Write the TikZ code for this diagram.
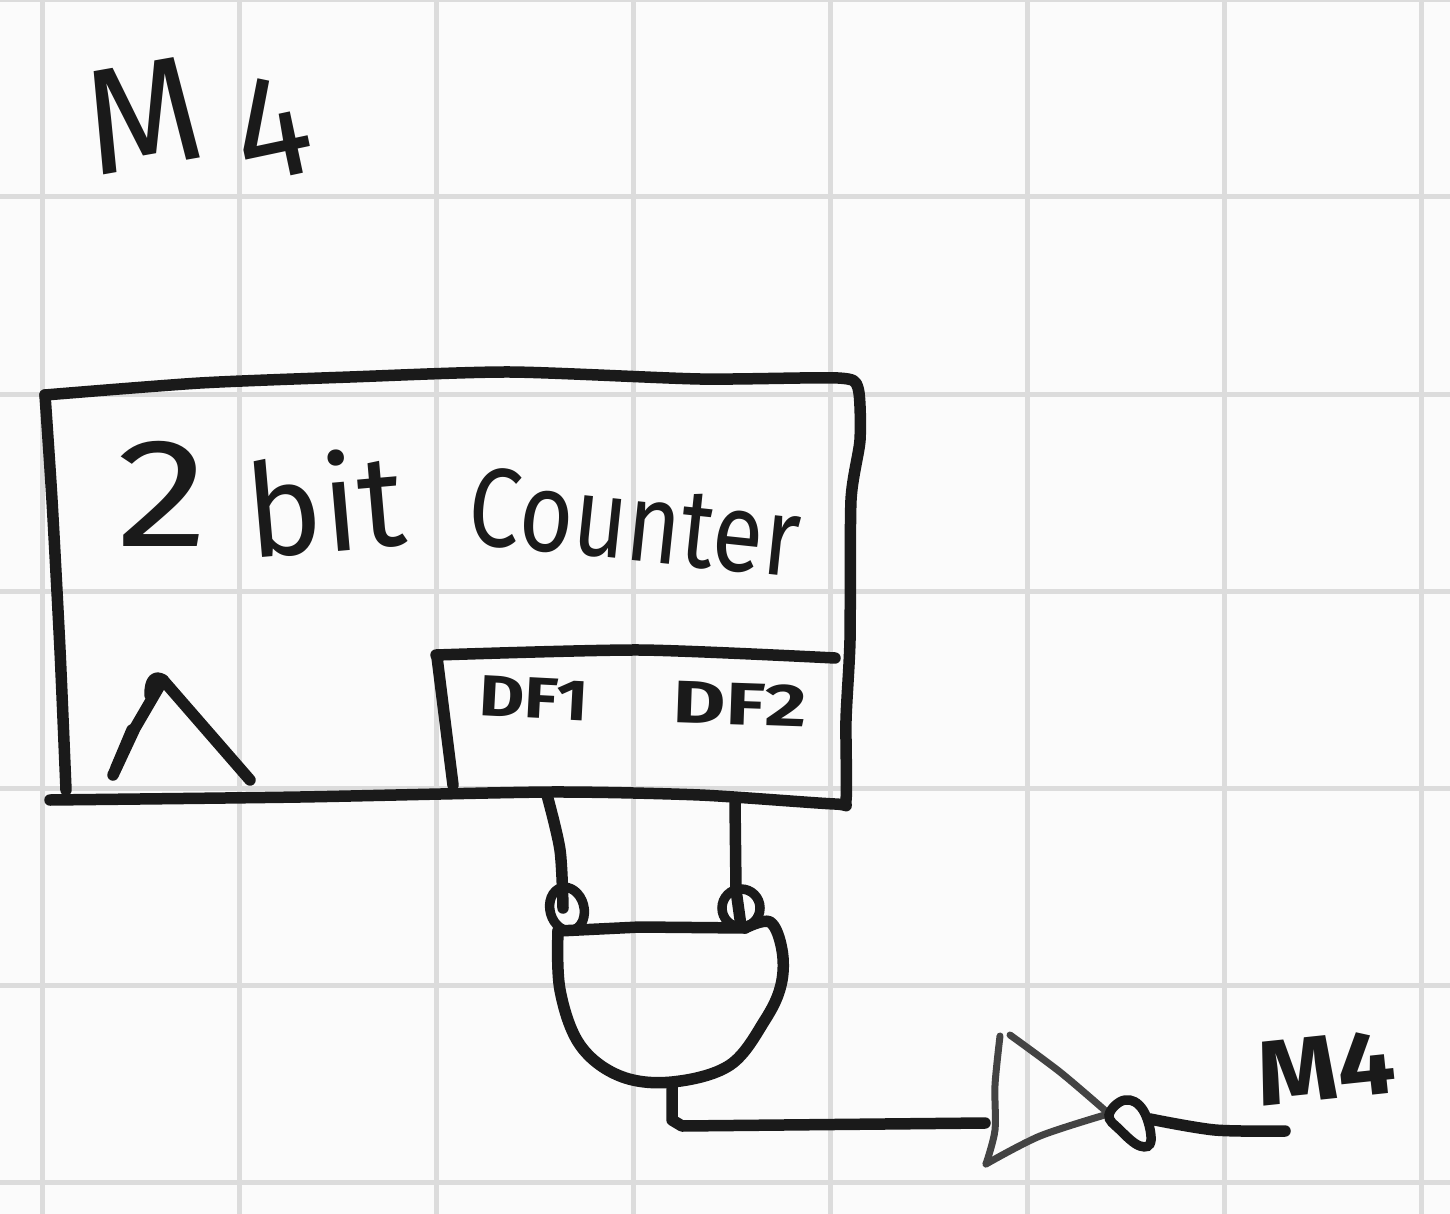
\documentclass[tikz,border=0pt]{standalone}
\usepackage{fontspec}
\usetikzlibrary{shapes.geometric}
\setmainfont{Fira Sans}
\begin{document}
\begin{tikzpicture}[x=1pt,y=-1pt,
  gridline/.style={draw=gridgray,line width=5pt},
  ink/.style={draw=inkc,line width=11.5pt,line cap=round,line join=round},
  thinink/.style={draw=inkc!82,line width=7pt,line cap=round,line join=round},
  bubble/.style={draw=inkc,line width=9.5pt,inner sep=0pt},
  hand/.style={inner sep=0pt,text=inkc,font=\fontsize{#1}{#1}\selectfont\mdseries},
  handb/.style={inner sep=0pt,text=inkc,font=\fontsize{#1}{#1}\selectfont\bfseries}]
\definecolor{gridgray}{HTML}{DCDCDC}
\definecolor{inkc}{HTML}{1A1A1A}
\definecolor{paper}{HTML}{FBFBFB}
\useasboundingbox (0,0) rectangle (1450,1214);
\fill[paper] (0,0) rectangle (1450,1214);
\foreach \x in {42,239,436,633,830,1027,1224,1421} \draw[gridline] (\x,0) -- (\x,1214);
\foreach \y in {0,197,394,591,788,985,1182} \draw[gridline] (0,\y) -- (1450,\y);
% texts
\node[hand=150,rotate=10] (titleM) at (143,115) {M};
\node[hand=150,rotate=12,xscale=.95] (titleF) at (272,128) {4};
\node[hand=155,xscale=1.2] (two) at (163,494) {2};
\node[hand=130,rotate=5,xscale=.98] (bit) at (325,502) {bit};
\node[hand=112,rotate=-6,xscale=.83] (counter) at (635,522) {Counter};
\node[handb=58,rotate=-3,xscale=1.2] (dfa) at (534,698) {DF1};
\node[handb=60,rotate=-2,xscale=1.35] (dfb) at (740,704) {DF2};
\node[handb=92,rotate=6,xscale=1.12] (outlabel) at (1326,1068) {M4};
% counter box
\draw[ink] plot[smooth,tension=.4] coordinates {(45,395) (200,383) (350,377) (510,372) (700,379) (838,378) (858,388) (860,440) (851,500) (850,640) (846,720) (846,800) (835,804) (700,795) (550,792) (300,797) (50,800)};
\draw[ink] plot[smooth,tension=.4] coordinates {(45,395) (52,500) (60,650) (66,790)};
% flip-flop compartment
\draw[ink] plot[smooth,tension=.4] coordinates {(436,655) (640,650) (835,658)};
\draw[ink] (437,657) -- (453,785);
% clock caret
\draw[ink] (113,775) -- (135,728) -- (163,680) -- (250,780);
\draw[ink] (150,695) .. controls (150,680) and (155,675) .. (163,680);
\draw[ink] (116,768) -- (132,730);
% gate inputs
\coordinate (ffa) at (547,795);
\coordinate (ffb) at (735,802);
\node[bubble,ellipse,minimum width=34pt,minimum height=44pt,rotate=15] (bubA) at (567,909) {};
\node[bubble,circle,minimum size=38pt] (bubB) at (741,908) {};
\draw[ink] plot[smooth,tension=.5] coordinates {(ffa) (560,850) (563,908)};
\draw[ink] (ffb) -- (736,890) -- (741,926);
% AND gate
\coordinate (gateout) at (672,1084);
\draw[ink] (558,931) -- (640,927) -- (745,928);
\draw[ink] plot[smooth,tension=.6] coordinates {(745,928) (770,922) (782,950) (781,985) (765,1020) (730,1065) (672,1082) (620,1076) (580,1045) (560,990) (558,931)};
% inverter
\coordinate (invin) at (985,1123);
\draw[ink] (gateout) -- (672,1120) -- (682,1126) -- (invin);
\draw[thinink] plot[smooth,tension=.5] coordinates {(1000,1036) (995,1085) (995,1130) (986,1164)};
\draw[thinink] plot[smooth,tension=.5] coordinates {(1010,1035) (1060,1072) (1108,1113)};
\draw[thinink] plot[smooth,tension=.5] coordinates {(986,1164) (1040,1136) (1108,1114)};
\draw[bubble,line cap=round] plot[smooth cycle,tension=.7] coordinates {(1109,1115) (1125,1100) (1143,1110) (1151,1140) (1140,1146) (1120,1130)};
\coordinate (outend) at (1285,1131);
\draw[ink] plot[smooth,tension=.5] coordinates {(1150,1119) (1215,1130) (outend)};
\end{tikzpicture}
\end{document}
